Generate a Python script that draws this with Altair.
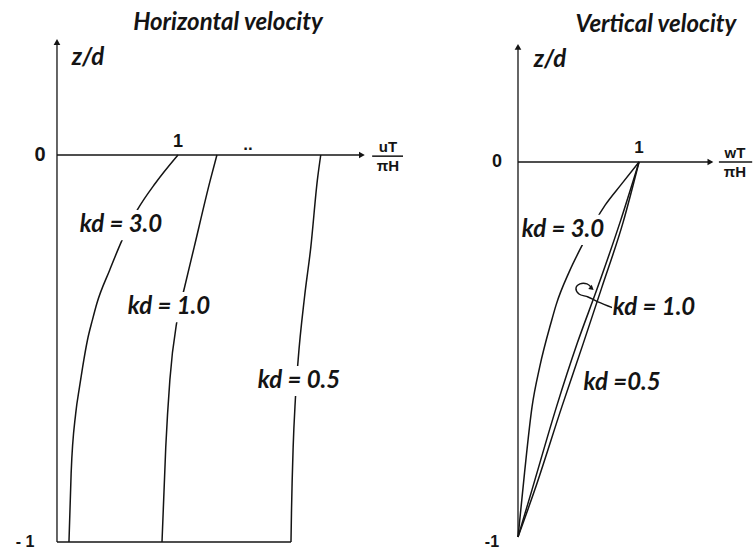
import altair as alt
import pandas as pd

# ---- horizontal velocity profiles: uT/(pi H) against z/d ----
h_z_30 = [0.0, -0.073, -0.142, -0.22, -0.297, -0.383, -0.426, -0.478, -0.548, -0.6, -0.667, -0.822, -1.0]
h_u_30 = [1.0, 0.813, 0.664, 0.538, 0.436, 0.33, 0.293, 0.252, 0.212, 0.186, 0.155, 0.117, 0.099]

h_z_10 = [0.0, -0.065, -0.238, -0.341, -0.426, -0.581, -0.755, -1.0]
h_u_10 = [1.322, 1.267, 1.134, 1.055, 0.993, 0.933, 0.899, 0.868]

h_z_05 = [0.0, -0.065, -0.238, -0.367, -0.53, -0.633, -0.755, -0.925, -1.0]
h_u_05 = [2.18, 2.152, 2.098, 2.046, 1.993, 1.97, 1.952, 1.938, 1.934]

# ---- vertical velocity profiles: wT/(pi H) against z/d ----
v_z_30 = [0.0, -0.061, -0.115, -0.221, -0.293, -0.381, -0.426, -0.547, -0.653, -0.829, -0.963, -1.0]
v_w_30 = [1.0, 0.85, 0.72, 0.532, 0.423, 0.315, 0.275, 0.179, 0.116, 0.054, 0.012, 0.0]

v_z_10 = [0.0, -0.159, -0.337, -0.483, -0.653, -0.875, -1.0]
v_w_10 = [1.0, 0.845, 0.655, 0.49, 0.318, 0.115, 0.0]

v_z_05 = [0.0, -0.159, -0.337, -0.483, -0.653, -0.875, -1.0]
v_w_05 = [1.0, 0.87, 0.69, 0.54, 0.362, 0.138, 0.0]

INK = "#141414"
W, H = 377, 550
ITALIC = dict(font="Lato", fontStyle="italic", fontWeight="bold", color=INK,
              baseline="middle", align="center")
# white plate drawn under each curve label so the curves break around it
PLATE = "M-1,-0.36H1V0.36H-1Z"


def profiles(sets):
    rows = []
    for name, zs, vs in sets:
        for z, v in zip(zs, vs):
            rows.append({"kd": name, "z": z, "v": v})
    return pd.DataFrame(rows)


def panel(curves, xdom, ydom, axes, arrows, labels, names, numbers,
          fraction, bar, leader=None, leader_tip=None):
    xs = alt.Scale(domain=xdom, nice=False, zero=False)
    ys = alt.Scale(domain=ydom, nice=False, zero=False)
    X = lambda f: alt.X(f, type="quantitative", scale=xs, axis=None)
    Y = lambda f: alt.Y(f, type="quantitative", scale=ys, axis=None)

    rules = alt.Chart(pd.DataFrame(axes)).mark_rule(
        color=INK, strokeWidth=1.3
    ).encode(x=X("x"), x2="x2", y=Y("y"), y2="y2")

    lines = alt.Chart(curves).mark_line(
        color=INK, strokeWidth=1.5, interpolate="monotone"
    ).encode(x=X("v"), y=Y("z"), detail="kd:N", order=alt.Order("z:Q"))

    heads = alt.Chart(pd.DataFrame(arrows)).mark_point(
        filled=True, color=INK, opacity=1, size=45
    ).encode(x=X("x"), y=Y("y"),
             shape=alt.Shape("s:N", scale=None, legend=None))

    lab_df = pd.DataFrame(labels)
    plates = alt.Chart(lab_df).mark_point(
        shape=PLATE, filled=True, color="white", opacity=1, size=7056,
        strokeWidth=0
    ).encode(x=X("x"), y=Y("y"))
    kd_text = alt.Chart(lab_df).mark_text(fontSize=24, **ITALIC).encode(
        x=X("x"), y=Y("y"), text="t:N")

    name_text = alt.Chart(pd.DataFrame(names)).mark_text(
        fontSize=24, **ITALIC
    ).encode(x=X("x"), y=Y("y"), text="t:N")

    num_text = alt.Chart(pd.DataFrame(numbers)).mark_text(
        font="Liberation Sans", fontWeight="bold", color=INK,
        baseline="middle", align="center"
    ).encode(x=X("x"), y=Y("y"), text="t:N", size=alt.Size("fs:Q", scale=None))

    frac_text = alt.Chart(pd.DataFrame(fraction)).mark_text(
        font="Liberation Sans", fontWeight="bold", fontSize=15, color=INK,
        baseline="middle", align="center"
    ).encode(x=X("x"), y=Y("y"), text="t:N")

    frac_bar = alt.Chart(pd.DataFrame([bar])).mark_rule(
        color=INK, strokeWidth=1.5
    ).encode(x=X("x"), x2="x2", y=Y("y"), y2="y2")

    layers = [rules, lines, heads]
    if leader is not None:
        layers.append(
            alt.Chart(pd.DataFrame(leader)).mark_line(
                color=INK, strokeWidth=1.4, interpolate="catmull-rom"
            ).encode(x=X("x"), y=Y("y"), order=alt.Order("i:Q"))
        )
        layers.append(
            alt.Chart(pd.DataFrame([leader_tip])).mark_point(
                shape="triangle-right", angle=40, filled=True, color=INK,
                opacity=1, size=30
            ).encode(x=X("x"), y=Y("y"))
        )
    layers += [plates, kd_text, name_text, num_text, frac_text, frac_bar]
    return alt.layer(*layers).properties(width=W, height=H)


left = panel(
    profiles([("3.0", h_z_30, h_u_30), ("1.0", h_z_10, h_u_10), ("0.5", h_z_05, h_u_05)]),
    xdom=[-0.471, 2.645], ydom=[-1.0207, 0.4005],
    axes=[{"x": 0, "x2": 0, "y": -1.0, "y2": 0.29},
          {"x": 0, "x2": 2.53, "y": 0, "y2": 0},
          {"x": 0, "x2": 1.934, "y": -1.0, "y2": -1.0}],
    arrows=[{"x": 0, "y": 0.292, "s": "triangle-up"},
            {"x": 2.52, "y": 0, "s": "triangle-right"}],
    labels=[{"x": 0.529, "y": -0.181, "t": "kd = 3.0"},
            {"x": 0.926, "y": -0.393, "t": "kd = 1.0"},
            {"x": 2.0, "y": -0.584, "t": "kd = 0.5"}],
    names=[{"x": 0.256, "y": 0.251, "t": "z/d"},
           {"x": 1.413, "y": 0.341, "t": "Horizontal velocity"}],
    numbers=[{"x": -0.14, "y": 0.0, "t": "0", "fs": 20},
             {"x": 1.0, "y": 0.034, "t": "1", "fs": 18},
             {"x": -0.264, "y": -1.0, "t": "- 1", "fs": 16},
             {"x": 1.579, "y": 0.026, "t": "..", "fs": 17}],
    fraction=[{"x": 2.736, "y": 0.0207, "t": "uT"},
              {"x": 2.736, "y": -0.0284, "t": "πH"}],
    bar={"x": 2.605, "x2": 2.86, "y": -0.003, "y2": -0.003},
)

right = panel(
    profiles([("3.0", v_z_30, v_w_30), ("1.0", v_z_10, v_w_10), ("0.5", v_z_05, v_w_05)]),
    xdom=[-1.165, 1.95], ydom=[-1.0347, 0.432],
    axes=[{"x": 0, "x2": 0, "y": -1.0, "y2": 0.305},
          {"x": 0, "x2": 1.6, "y": 0, "y2": 0}],
    arrows=[{"x": 0, "y": 0.307, "s": "triangle-up"},
            {"x": 1.59, "y": 0, "s": "triangle-right"}],
    labels=[{"x": 0.372, "y": -0.181, "t": "kd = 3.0"},
            {"x": 1.124, "y": -0.389, "t": "kd = 1.0"},
            {"x": 0.86, "y": -0.589, "t": "kd =0.5"}],
    names=[{"x": 0.264, "y": 0.272, "t": "z/d"},
           {"x": 1.14, "y": 0.365, "t": "Vertical velocity"}],
    numbers=[{"x": -0.174, "y": 0.0, "t": "0", "fs": 18},
             {"x": 1.0, "y": 0.037, "t": "1", "fs": 17},
             {"x": -0.215, "y": -1.013, "t": "-1", "fs": 16}],
    fraction=[{"x": 1.793, "y": 0.024, "t": "wT"},
              {"x": 1.793, "y": -0.0267, "t": "πH"}],
    bar={"x": 1.66, "x2": 1.935, "y": 0.0, "y2": 0.0},
    leader=[{"i": 0, "x": 0.785, "y": -0.389},
            {"i": 1, "x": 0.661, "y": -0.373},
            {"i": 2, "x": 0.579, "y": -0.36},
            {"i": 3, "x": 0.504, "y": -0.352},
            {"i": 4, "x": 0.479, "y": -0.336},
            {"i": 5, "x": 0.512, "y": -0.325},
            {"i": 6, "x": 0.57, "y": -0.325},
            {"i": 7, "x": 0.605, "y": -0.334}],
    leader_tip={"x": 0.61, "y": -0.337},
)

chart = alt.hconcat(left, right, spacing=0).properties(
    bounds="flush", padding=0, background="white",
).configure_view(stroke=None)

chart.save("out.html", embed_options={"renderer": "svg", "actions": False})
